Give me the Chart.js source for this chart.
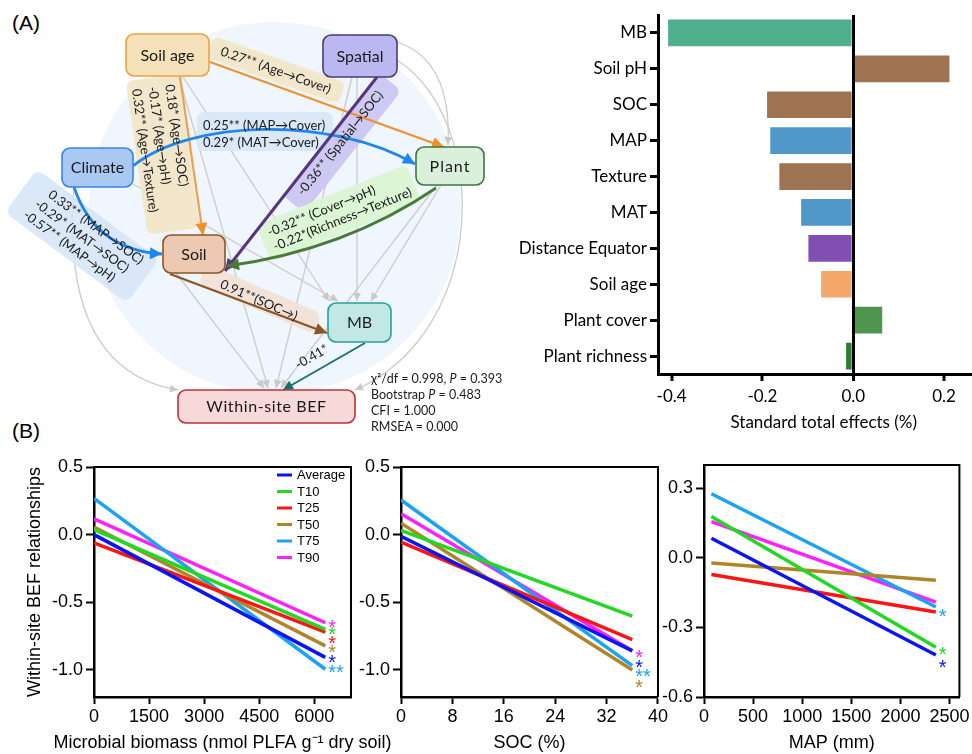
<!DOCTYPE html>
<html><head><meta charset="utf-8">
<script src="https://cdn.jsdelivr.net/npm/chart.js@4.4.1/dist/chart.umd.min.js"></script>
<style>
html,body{margin:0;padding:0;background:#fff;overflow:hidden}
#wrap{position:relative;width:972px;height:754px;overflow:hidden;background:#fff}
canvas{position:absolute}
#diag{position:absolute;left:0;top:0}
#diag text{font-family:Lato,"Open Sans",sans-serif;fill:#1a1a1a}
</style></head><body>
<div id="wrap">
<svg id="diag" width="972" height="460" xmlns="http://www.w3.org/2000/svg">
<defs>
 <marker id="mGray" viewBox="0 0 10 10" refX="10" refY="5" markerWidth="9" markerHeight="8" markerUnits="userSpaceOnUse" orient="auto"><path d="M0,0 L10,5 L0,10 z" fill="#c9c9c9"/></marker>
 <marker id="mOr" viewBox="0 0 10 10" refX="10" refY="5" markerWidth="14" markerHeight="12" markerUnits="userSpaceOnUse" orient="auto"><path d="M0,0 L10,5 L0,10 z" fill="#f0902a"/></marker>
 <marker id="mBl" viewBox="0 0 10 10" refX="10" refY="5" markerWidth="14" markerHeight="12" markerUnits="userSpaceOnUse" orient="auto"><path d="M0,0 L10,5 L0,10 z" fill="#1f87f0"/></marker>
 <marker id="mPu" viewBox="0 0 10 10" refX="10" refY="5" markerWidth="14" markerHeight="12" markerUnits="userSpaceOnUse" orient="auto"><path d="M0,0 L10,5 L0,10 z" fill="#56367f"/></marker>
 <marker id="mGr" viewBox="0 0 10 10" refX="10" refY="5" markerWidth="14" markerHeight="12" markerUnits="userSpaceOnUse" orient="auto"><path d="M0,0 L10,5 L0,10 z" fill="#4a7a3a"/></marker>
 <marker id="mBr" viewBox="0 0 10 10" refX="10" refY="5" markerWidth="14" markerHeight="12" markerUnits="userSpaceOnUse" orient="auto"><path d="M0,0 L10,5 L0,10 z" fill="#8b5528"/></marker>
 <marker id="mTe" viewBox="0 0 10 10" refX="10" refY="5" markerWidth="12" markerHeight="10" markerUnits="userSpaceOnUse" orient="auto"><path d="M0,0 L10,5 L0,10 z" fill="#137070"/></marker>
</defs>
<text x="12" y="30" style="font-family:'Liberation Sans',Arial,sans-serif;font-size:21px;fill:#000">(A)</text>
<text x="12" y="438" style="font-family:'Liberation Sans',Arial,sans-serif;font-size:21px;fill:#000">(B)</text>
<circle cx="275" cy="208" r="186" fill="#f0f6fd"/>
<g stroke="#cbcbcb" stroke-width="1.3" fill="none" marker-end="url(#mGray)">
 <path d="M183,77 L329,301"/>
 <path d="M179,77 L268,388"/>
 <path d="M133,184 L338,301"/>
 <path d="M357,77 L357,301"/>
 <path d="M352,77 L276,388"/>
 <path d="M441,185 L371,301"/>
 <path d="M437,185 L281,388"/>
 <path d="M176,273 L264,388"/>
 <path d="M74,187 Q60,370 178,390"/>
 <path d="M397,42 Q452,60 448,145"/>
 <path d="M397,60 C490,120 490,330 355,390"/>
</g>
<!-- bands -->
<g opacity="0.9">
 <g transform="translate(276,70) rotate(19.5)"><rect x="-70" y="-11.5" width="140" height="23" rx="7" fill="#f2e6c6"/></g>
 <g transform="translate(161.7,150) rotate(82)"><rect x="-73" y="-27" width="155" height="53" rx="7" fill="#f2e6c6"/></g>
 <rect x="197" y="112" width="136" height="39" rx="7" fill="#d7e7f8"/>
 <g transform="translate(82,236) rotate(36.5)"><rect x="-76" y="-27" width="152" height="54" rx="8" fill="#d6e6f8"/></g>
 <g transform="translate(342,143) rotate(-51.5)"><rect x="-78" y="-14" width="156" height="28" rx="7" fill="#c9c5f1"/></g>
 <g transform="translate(268,233) rotate(-22)"><rect x="-8" y="-12" width="162" height="40" rx="7" fill="#d9f5d1"/></g>
 <g transform="translate(260,299) rotate(23.5)"><rect x="-63" y="-11" width="126" height="22" rx="8" fill="#f2e1d6"/></g>
</g>
<!-- coloured paths -->
<g fill="none">
 <path d="M210,62 L444,147" stroke="#f0902a" stroke-width="2" marker-end="url(#mOr)"/>
 <path d="M180,77 L203,235" stroke="#f0a04a" stroke-width="2.2" marker-end="url(#mOr)"/>
 <path d="M133,166 C190,120 330,115 415,164" stroke="#1f87f0" stroke-width="2.8" marker-end="url(#mBl)"/>
 <path d="M74,187 Q95,250 162,254" stroke="#1f87f0" stroke-width="2.8" marker-end="url(#mBl)"/>
 <path d="M377,77 L225,271" stroke="#56367f" stroke-width="3" marker-end="url(#mPu)"/>
 <path d="M436,188 Q345,250 227,266" stroke="#4a7a3a" stroke-width="2.8" marker-end="url(#mGr)"/>
 <path d="M170,274 L327,333" stroke="#8b5528" stroke-width="2.4" marker-end="url(#mBr)"/>
 <path d="M365,343 L283,390" stroke="#137070" stroke-width="1.8" marker-end="url(#mTe)"/>
</g>
<!-- band texts -->
<g style="font-size:13px">
 <g transform="translate(276,70) rotate(19.5)"><text x="0" y="4.5" text-anchor="middle">0.27** (Age→Cover)</text></g>
 <g transform="translate(161.7,150) rotate(82)">
  <text x="-64" y="-12.5">0.18* (Age→SOC)</text>
  <text x="-64" y="4.5">-0.17* (Age→pH)</text>
  <text x="-64" y="21">0.32** (Age→Texture)</text>
 </g>
 <text x="203" y="129.5">0.25** (MAP→Cover)</text>
 <text x="203" y="146.5">0.29* (MAT→Cover)</text>
 <g transform="translate(82,236) rotate(36.5)">
  <text x="6" y="-11" text-anchor="middle">0.33** (MAP→SOC)</text>
  <text x="0" y="4.5" text-anchor="middle">-0.29* (MAT→SOC)</text>
  <text x="-4" y="20" text-anchor="middle">-0.57** (MAP→pH)</text>
 </g>
 <g transform="translate(340,143) rotate(-51.5)"><text x="0" y="4.5" text-anchor="middle">-0.36** (Spatial→SOC)</text></g>
 <g transform="translate(268,233) rotate(-22)">
  <text x="0" y="4">-0.32** (Cover→pH)</text>
  <text x="0" y="19.5">-0.22*(Richness→Texture)</text>
 </g>
 <g transform="translate(259,300) rotate(23.5)"><text x="0" y="4.5" text-anchor="middle">0.91**(SOC→)</text></g>
 <g transform="translate(312,357) rotate(-30)"><text x="0" y="4" text-anchor="middle">-0.41*</text></g>
</g>
<!-- nodes -->
<g stroke-width="1.6">
 <rect x="126" y="34" width="83" height="42" rx="8" fill="#f5e2bb" stroke="#f0a040"/>
 <rect x="323" y="35" width="74" height="42" rx="8" fill="#bbb7f0" stroke="#4a3a7a"/>
 <rect x="62" y="148" width="71" height="39" rx="8" fill="#a9c9f2" stroke="#3b82e8"/>
 <rect x="416" y="147" width="68" height="38" rx="8" fill="#daf0da" stroke="#3c783c"/>
 <rect x="163" y="235" width="62" height="38" rx="8" fill="#edc9b1" stroke="#8b5424"/>
 <rect x="328" y="303" width="63" height="39" rx="8" fill="#c2e8e6" stroke="#2a9e9a"/>
 <rect x="178" y="390" width="177" height="33" rx="8" fill="#f8d9d9" stroke="#c0303a"/>
</g>
<g style="font-size:16px" text-anchor="middle">
 <text x="167.5" y="61">Soil age</text>
 <text x="360" y="62">Spatial</text>
 <text x="97.5" y="173">Climate</text>
 <text x="450" y="172" style="letter-spacing:1px">Plant</text>
 <text x="194" y="260">Soil</text>
 <text x="359.5" y="328">MB</text>
 <text x="266.5" y="412" style="letter-spacing:0.6px">Within-site BEF</text>
</g>
<g style="font-size:12.5px">
 <text x="371" y="383">χ²/df = 0.998, <tspan font-style="italic">P</tspan> = 0.393</text>
 <text x="371" y="399">Bootstrap <tspan font-style="italic">P</tspan> = 0.483</text>
 <text x="371" y="415">CFI = 1.000</text>
 <text x="371" y="431">RMSEA = 0.000</text>
</g>
</svg>
<canvas id="bar" width="500" height="440" style="left:500px;top:0"></canvas>
<canvas id="c1" width="400" height="314" style="left:0;top:440px"></canvas>
<canvas id="c2" width="330" height="314" style="left:340px;top:440px"></canvas>
<canvas id="c3" width="322" height="314" style="left:650px;top:440px"></canvas>
</div>
<script>
// ---------- Panel A: standard total effects ----------
const barLabels = ['MB','Soil pH','SOC','MAP','Texture','MAT','Distance Equator','Soil age','Plant cover','Plant richness'];
const barValues = [-0.41, 0.214, -0.192, -0.185, -0.165, -0.117, -0.101, -0.073, 0.066, -0.018];
const barColors = ['#50b08e','#9d7352','#9d7352','#4f98c8','#9d7352','#4f98c8','#814fb3','#f5a86b','#4f954f','#2f7d32'];
const barTicks = [-0.4, -0.2, 0, 0.2];

// ---------- Panel B: within-site BEF relationships ----------
const seriesNames = ['Average','T10','T25','T50','T75','T90'];
const seriesColors = ['#0a14f5','#22d822','#ff1414','#b0852a','#1aa3f0','#ff1fff'];
const yTicksB = [-1.0, -0.5, 0.0, 0.5];

// B1 microbial biomass
const mbX = [0, 6300];
const mbStart = [0.0, 0.037, -0.061, 0.056, 0.268, 0.117];
const mbEnd = [-0.907, -0.70, -0.72, -0.822, -0.995, -0.651];
const mbSig = ['*','*','*','*','**','*'];
const mbSigY = [-0.915, -0.707, -0.768, -0.841, -0.988, -0.651];
const mbTicks = [0, 1500, 3000, 4500, 6000];

// B2 SOC
const socX = [0, 36];
const socStart = [-0.012, 0.032, -0.056, 0.085, 0.256, 0.154];
const socEnd = [-0.859, -0.602, -0.776, -1.0, -0.968, -0.859];
const socSig = ['*', null, null, '*', '**', '*'];
const socSigY = [-0.946, null, null, -1.10, -1.012, -0.878];
const socTicks = [0, 8, 16, 24, 32, 40];

// B3 MAP
const mapX = [75, 2360];
const mapStart = [0.084, 0.178, -0.072, -0.022, 0.276, 0.156];
const mapEnd = [-0.419, -0.386, -0.234, -0.097, -0.212, -0.191];
const mapSig = ['*', '*', null, null, '*', null];
const mapSigY = [-0.454, -0.397, null, null, -0.234, null];
const mapTicks = [0, 500, 1000, 1500, 2000, 2500];
const mapYTicks = [-0.6, -0.3, 0.0, 0.3];

Chart.defaults.animation = false;
Chart.defaults.responsive = false;
Chart.defaults.color = '#000';

const framePlugin = {
  id: 'frame',
  afterDraw(chart, args, opts) {
    const {ctx, chartArea: a} = chart;
    ctx.save();
    ctx.strokeStyle = '#000';
    ctx.lineWidth = opts.width || 2;
    ctx.beginPath();
    ctx.moveTo(a.left, a.top); ctx.lineTo(a.right, a.top); ctx.lineTo(a.right, a.bottom);
    ctx.stroke();
    ctx.restore();
  }
};
const titlePlugin = {
  id: 'axTitles',
  afterDraw(chart, args, o) {
    const {ctx, chartArea: a} = chart;
    ctx.save();
    ctx.fillStyle = '#000';
    ctx.font = o.font;
    ctx.textAlign = 'center';
    ctx.textBaseline = 'middle';
    if (o.x) ctx.fillText(o.x, (a.left + a.right) / 2, o.xY);
    if (o.y) {
      ctx.translate(o.yX, (a.top + a.bottom) / 2);
      ctx.rotate(-Math.PI / 2);
      ctx.fillText(o.y, 0, 0);
    }
    ctx.restore();
  }
};
const starPlugin = {
  id: 'stars',
  afterDatasetsDraw(chart, args, opts) {
    const {ctx} = chart;
    const xs = chart.scales.x, ys = chart.scales.y;
    ctx.save();
    ctx.font = '20px "Liberation Sans", Arial, sans-serif';
    ctx.textBaseline = 'alphabetic';
    ctx.textAlign = 'left';
    chart.data.datasets.forEach((ds, i) => {
      const lab = opts.labels[i];
      if (!lab) return;
      const last = ds.data[ds.data.length - 1];
      const px = xs.getPixelForValue(last.x) + opts.dx;
      const py = ys.getPixelForValue(opts.ys[i]);
      ctx.fillStyle = ds.borderColor;
      ctx.fillText(lab, px, py + 11);
    });
    ctx.restore();
  }
};
const legendPlugin = {
  id: 'inLegend',
  afterDraw(chart, args, opts) {
    if (!opts.show) return;
    const {ctx, chartArea: a} = chart;
    ctx.save();
    ctx.font = '13px "Liberation Sans", Arial, sans-serif';
    ctx.textBaseline = 'middle';
    chart.data.datasets.forEach((ds, i) => {
      const y = a.top + opts.top + i * opts.step;
      const x = a.right - opts.right;
      ctx.strokeStyle = ds.borderColor; ctx.lineWidth = 3;
      ctx.beginPath(); ctx.moveTo(x, y); ctx.lineTo(x + 15, y); ctx.stroke();
      ctx.fillStyle = '#000';
      ctx.fillText(ds.label, x + 20, y + 0.5);
    });
    ctx.restore();
  }
};

// bar chart
const latoF = (s) => ({family: 'Lato, "Open Sans", sans-serif', size: s});
new Chart(document.getElementById('bar'), {
  type: 'bar',
  data: {labels: barLabels, datasets: [{data: barValues, backgroundColor: barColors,
    borderColor: 'rgba(255,255,255,0.35)', borderWidth: 1, categoryPercentage: 0.8, barPercentage: 1}]},
  options: {
    indexAxis: 'y',
    layout: {padding: {top: 15, right: 10.5, left: 0, bottom: 0}},
    plugins: {legend: {display: false}, tooltip: {enabled: false}},
    scales: {
      x: {
        min: -0.43, max: 0.3,
        afterBuildTicks: s => { s.ticks = barTicks.map(v => ({value: v})); },
        ticks: {font: latoF(17), color: '#000', padding: 5, autoSkip: false, maxRotation: 0,
          callback: v => v.toFixed(1)},
        grid: {drawOnChartArea: true,
          color: c => (c.tick && Math.abs(c.tick.value) < 1e-9) ? '#000' : 'rgba(0,0,0,0)',
          lineWidth: c => (c.tick && Math.abs(c.tick.value) < 1e-9) ? 3 : 0,
          drawTicks: true, tickColor: '#000', tickLength: 7, tickWidth: 3},
        border: {color: '#000', width: 3},
        title: {display: true, text: 'Standard total effects (%)', font: latoF(17), color: '#000',
          padding: {top: 0, bottom: 7}},
        afterFit: s => { s.height = 66; }
      },
      y: {
        ticks: {font: latoF(17), color: '#000', padding: 3, autoSkip: false},
        grid: {drawOnChartArea: false, offset: false, tickColor: '#000', tickLength: 8, tickWidth: 3},
        border: {color: '#000', width: 3},
        afterFit: s => { s.width = 158; }
      }
    }
  }
});

function makeLine(id, xr, starts, ends, sig, sigY, xTicks, yTicks, yMin, yMax, xMax, opt) {
  const datasets = seriesNames.map((n, i) => ({
    label: n,
    data: [{x: xr[0], y: starts[i]}, {x: xr[1], y: ends[i]}],
    borderColor: seriesColors[i], backgroundColor: seriesColors[i],
    borderWidth: 3.5, pointRadius: 0, showLine: true, fill: false, borderCapStyle: 'butt'
  }));
  const arial = (s) => ({family: '"Liberation Sans", Arial, sans-serif', size: s});
  new Chart(document.getElementById(id), {
    type: 'scatter',
    data: {datasets},
    plugins: [framePlugin, starPlugin, legendPlugin, titlePlugin],
    options: {
      layout: {padding: {top: opt.top, right: opt.right, left: 0, bottom: 0}},
      plugins: {
        legend: {display: false}, tooltip: {enabled: false},
        frame: {width: 2},
        stars: {labels: sig, ys: sigY, dx: opt.dx},
        inLegend: {show: !!opt.legend, top: 8, step: 16.5, right: 74},
        axTitles: {font: '18px "Liberation Sans", Arial, sans-serif', x: opt.xTitle, xY: 303,
          y: opt.yTitle || null, yX: 35}
      },
      scales: {
        x: {
          type: 'linear', min: 0, max: xMax,
          afterBuildTicks: s => { s.ticks = xTicks.map(v => ({value: v})); },
          ticks: {font: arial(18), color: '#000', padding: 2, autoSkip: false, maxRotation: 0,
            callback: v => String(v)},
          grid: {drawOnChartArea: false, tickColor: '#000', tickLength: 7, tickWidth: 2},
          border: {color: '#000', width: 2.5},
          afterFit: s => { s.height = 57; }
        },
        y: {
          min: yMin, max: yMax,
          afterBuildTicks: s => { s.ticks = yTicks.map(v => ({value: v})); },
          ticks: {font: arial(18), color: '#000', padding: 3, autoSkip: false,
            callback: v => v.toFixed(1)},
          grid: {drawOnChartArea: false, tickColor: '#000', tickLength: 8, tickWidth: 2},
          border: {color: '#000', width: 2.5},
          afterFit: s => { s.width = opt.yw; }
        }
      }
    }
  });
}

makeLine('c1', mbX, mbStart, mbEnd, mbSig, mbSigY, mbTicks, yTicksB, -1.2, 0.5, 7000,
  {top: 27, right: 49, yw: 94, dx: 3, legend: true,
   xTitle: 'Microbial biomass (nmol PLFA g\u207B\u00B9 dry soil)', yTitle: 'Within-site BEF relationships'});
makeLine('c2', socX, socStart, socEnd, socSig, socSigY, socTicks, yTicksB, -1.2, 0.5, 40,
  {top: 27, right: 12, yw: 61, dx: 3, xTitle: 'SOC (%)'});
makeLine('c3', mapX, mapStart, mapEnd, mapSig, mapSigY, mapTicks, mapYTicks, -0.6, 0.4, 2600,
  {top: 25, right: 10, yw: 54, dx: 3, xTitle: 'MAP (mm)'});
</script>
</body></html>
